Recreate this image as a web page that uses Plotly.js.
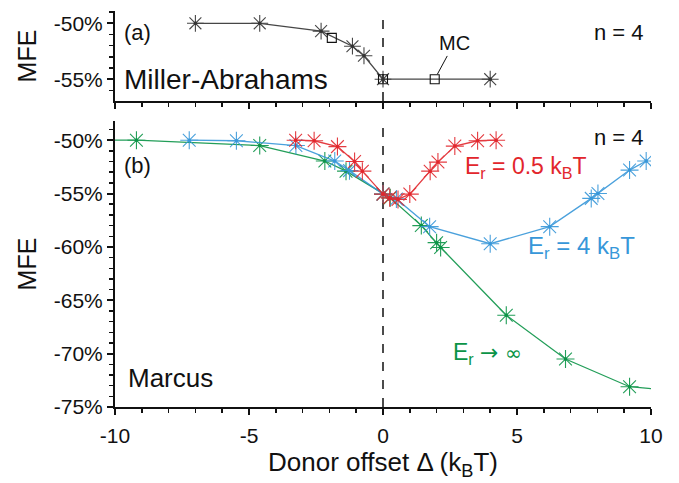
<!DOCTYPE html>
<html>
<head>
<meta charset="utf-8">
<script src="https://cdn.plot.ly/plotly-3.0.1.min.js"></script>
<style>html,body{margin:0;padding:0;background:#fff;}#chart{width:679px;height:483px;}</style>
</head>
<body>
<div id="chart"></div>
<script>
// ---- Data ----
// (a) Miller-Abrahams
const maX = [-7, -4.6, -2.31, -1.14, -0.71, 0, 4];
const maY = [-50, -50, -50.7, -52.05, -52.9, -55, -55];
const mcX = [-1.91, 0, 1.93];
const mcY = [-51.3, -55, -55];
// (b) Marcus
const redX = [-3.26, -2.57, -1.7, -1.06, -0.77, 0, 0.25, 0.56, 1.0, 1.76, 2.05, 2.68, 3.53, 4.22];
const redY = [-50, -50.05, -50.6, -52.0, -52.9, -55.05, -55.4, -55.55, -55.05, -52.9, -52.05, -50.55, -50.05, -50.0];
const blueX = [-7.23, -5.47, -3.25, -1.8, -1.25, 0, 0.5, 1.74, 4.0, 6.22, 7.77, 8.02, 9.2, 9.82];
const blueY = [-50, -50.05, -50.5, -51.95, -52.85, -55.05, -55.5, -58.1, -59.7, -58.1, -55.45, -55.0, -52.8, -51.95];
const greenX = [-11, -9.2, -4.6, -2.17, -1.38, 0, 0.27, 1.43, 2.0, 2.15, 4.6, 6.81, 9.2, 10.6];
const greenY = [-50, -50, -50.5, -51.95, -52.9, -55.05, -55.4, -58.0, -59.6, -60.05, -66.4, -70.5, -73.1, -73.4];
// ticks
const xTickVals = [-10, -5, 0, 5, 10];
const xTickText = ['-10', '-5', '0', '5', '10'];
const yTickValsB = [-75, -70, -65, -60, -55, -50];
const yTickTextB = ['-75%', '-70%', '-65%', '-60%', '-55%', '-50%'];
const yTickValsA = [-55, -50];
const yTickTextA = ['-55%', '-50%'];

// ---- Styles ----
const RED = '#e2262c', BLUE = '#3797d9', GREEN = '#0b9447', BLACK = '#111';
const FONT = 'Liberation Sans, Arial, Helvetica, sans-serif';

function series(x, y, color, xa, ya, msize) {
  return [
    {x: x, y: y, xaxis: xa, yaxis: ya, mode: 'lines+markers', type: 'scatter',
     line: {color: color, width: 1.3},
     marker: {symbol: 'asterisk-open', size: msize, color: color, line: {color: color, width: 1.1}},
     opacity: 0.9, hoverinfo: 'skip', showlegend: false},
    {x: x, y: y, xaxis: xa, yaxis: ya, mode: 'markers', type: 'scatter',
     marker: {symbol: 'circle', size: 3.5, color: color},
     hoverinfo: 'skip', showlegend: false}
  ];
}

const traces = [].concat(
  series(maX, maY, '#333', 'x2', 'y2', 14),
  [{x: mcX, y: mcY, xaxis: 'x2', yaxis: 'y2', mode: 'markers', type: 'scatter',
    marker: {symbol: 'square-open', size: 9, color: BLACK, line: {color: BLACK, width: 1.1}},
    hoverinfo: 'skip', showlegend: false}],
  series(greenX, greenY, GREEN, 'x', 'y', 15),
  series(blueX, blueY, BLUE, 'x', 'y', 15),
  series(redX, redY, RED, 'x', 'y', 15)
);

const tickFont = {family: FONT, size: 21, color: '#111'};
const baseAx = {showline: true, linewidth: 2, linecolor: '#111', zeroline: false, showgrid: false,
                tickwidth: 2, tickcolor: '#111', ticklen: 6, fixedrange: true};
const minorX = {dtick: 1, ticklen: 4, tickwidth: 1.5, tickcolor: '#111'};
const minorY = {dtick: 1, ticklen: 4, tickwidth: 1.5, tickcolor: '#111'};

const layout = {
  width: 679, height: 483,
  margin: {l: 115, r: 28, t: 11, b: 76},
  paper_bgcolor: '#fff', plot_bgcolor: '#fff',
  font: {family: FONT, color: '#111'},
  showlegend: false,
  xaxis: Object.assign({}, baseAx, {domain: [0, 1], anchor: 'y', range: [-10, 10], ticks: 'outside',
    tickvals: xTickVals, ticktext: xTickText, tickfont: tickFont, ticklabelstandoff: 3,
    minor: Object.assign({ticks: 'outside'}, minorX),
    title: {text: 'Donor offset Δ (k<sub>B</sub>T)', font: {family: FONT, size: 26, color: '#111'}, standoff: 4}}),
  yaxis: Object.assign({}, baseAx, {domain: [0, 0.7222], anchor: 'x', range: [-75, -48.2], ticks: 'outside',
    tickvals: yTickValsB, ticktext: yTickTextB, tickfont: tickFont,
    minor: Object.assign({ticks: 'outside'}, minorY),
    title: {text: 'MFE', font: {family: FONT, size: 25, color: '#111'}, standoff: 10}}),
  xaxis3: Object.assign({}, baseAx, {overlaying: 'x', anchor: 'y', side: 'top', range: [-10, 10], ticks: 'inside',
    tickvals: xTickVals, showticklabels: false, minor: Object.assign({ticks: 'inside'}, minorX)}),
  yaxis3: Object.assign({}, baseAx, {overlaying: 'y', anchor: 'x', side: 'right', range: [-75, -48.2], ticks: 'inside',
    tickvals: yTickValsB, showticklabels: false, minor: Object.assign({ticks: 'inside'}, minorY)}),
  xaxis2: Object.assign({}, baseAx, {domain: [0, 1], anchor: 'y2', range: [-10, 10], ticks: 'outside',
    tickvals: xTickVals, showticklabels: false, minor: Object.assign({ticks: 'outside'}, minorX)}),
  yaxis2: Object.assign({}, baseAx, {domain: [0.7727, 1], anchor: 'x2', range: [-56.95, -48.9], ticks: 'outside',
    tickvals: yTickValsA, ticktext: yTickTextA, tickfont: tickFont,
    minor: Object.assign({ticks: 'outside'}, minorY),
    title: {text: 'MFE', font: {family: FONT, size: 25, color: '#111'}, standoff: 10}}),
  xaxis4: Object.assign({}, baseAx, {overlaying: 'x2', anchor: 'y2', side: 'top', range: [-10, 10], ticks: 'inside',
    tickvals: xTickVals, showticklabels: false, minor: Object.assign({ticks: 'inside'}, minorX)}),
  yaxis4: Object.assign({}, baseAx, {overlaying: 'y2', anchor: 'x2', side: 'right', range: [-56.95, -48.9], ticks: 'inside',
    tickvals: yTickValsA, showticklabels: false, minor: Object.assign({ticks: 'inside'}, minorY)}),
  shapes: [
    {type: 'line', xref: 'x', yref: 'y domain', x0: 0, x1: 0, y0: 0, y1: 1, line: {color: '#111', width: 1.5, dash: 'dash'}, layer: 'below'},
    {type: 'line', xref: 'x2', yref: 'y2 domain', x0: 0, x1: 0, y0: 0, y1: 1, line: {color: '#111', width: 1.5, dash: 'dash'}, layer: 'below'}
  ],
  annotations: [
    {xref: 'x2', yref: 'y2', x: -9.75, y: -50.8, xanchor: 'left', yanchor: 'middle', text: '(a)', showarrow: false, font: {family: FONT, size: 22, color: '#111'}},
    {xref: 'x2', yref: 'y2', x: 9.8, y: -50.8, xanchor: 'right', yanchor: 'middle', text: 'n = 4', showarrow: false, font: {family: FONT, size: 22, color: '#111'}},
    {xref: 'x2', yref: 'y2', x: -9.75, y: -55.0, xanchor: 'left', yanchor: 'middle', text: 'Miller-Abrahams', showarrow: false, font: {family: FONT, size: 28, color: '#111'}},
    {xref: 'x2', yref: 'y2', x: 2.03, y: -54.55, axref: 'x2', ayref: 'y2', ax: 2.65, ay: -51.8, text: 'MC', showarrow: true, arrowhead: 0, arrowwidth: 1, arrowcolor: '#111', font: {family: FONT, size: 20, color: '#111'}},
    {xref: 'x', yref: 'y', x: -9.75, y: -52.4, xanchor: 'left', yanchor: 'middle', text: '(b)', showarrow: false, font: {family: FONT, size: 22, color: '#111'}},
    {xref: 'x', yref: 'y', x: 9.8, y: -49.7, xanchor: 'right', yanchor: 'middle', text: 'n = 4', showarrow: false, font: {family: FONT, size: 22, color: '#111'}},
    {xref: 'x', yref: 'y', x: -9.6, y: -72.3, xanchor: 'left', yanchor: 'middle', text: 'Marcus', showarrow: false, font: {family: FONT, size: 26, color: '#111'}},
    {xref: 'x', yref: 'y', x: 3.0, y: -52.6, xanchor: 'left', yanchor: 'middle', text: 'E<sub>r</sub> = 0.5 k<sub>B</sub>T', showarrow: false, font: {family: FONT, size: 23, color: RED}},
    {xref: 'x', yref: 'y', x: 5.35, y: -60.1, xanchor: 'left', yanchor: 'middle', text: 'E<sub>r</sub> = 4 k<sub>B</sub>T', showarrow: false, font: {family: FONT, size: 24, color: BLUE}},
    {xref: 'x', yref: 'y', x: 2.55, y: -70.0, xanchor: 'left', yanchor: 'middle', text: 'E<sub>r</sub> <span style="font-family:DejaVu Sans;font-size:22px">→</span> <span style="font-family:DejaVu Sans;font-size:20px">∞</span>', showarrow: false, font: {family: FONT, size: 23, color: GREEN}}
  ]
};

Plotly.newPlot('chart', traces, layout, {staticPlot: true, displayModeBar: false});
</script>
</body>
</html>
